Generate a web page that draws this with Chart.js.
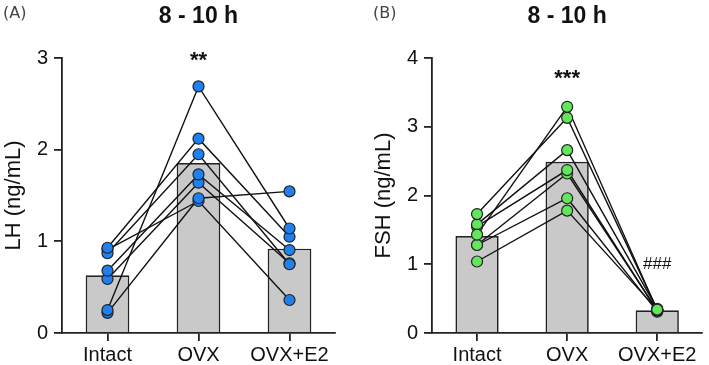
<!DOCTYPE html>
<html>
<head>
<meta charset="utf-8">
<script src="https://cdn.jsdelivr.net/npm/chart.js@4.4.0/dist/chart.umd.min.js"></script>
<style>
  body { margin: 0; background: #fff; width: 709px; height: 365px; position: relative; overflow: hidden; }
  canvas { position: absolute; top: 0; }
  #chartA { left: 0; }
  #chartB { left: 370px; }
</style>
</head>
<body>
<canvas id="chartA" width="370" height="365"></canvas>
<canvas id="chartB" width="339" height="365"></canvas>
<script>
const groups = ["Intact", "OVX", "OVX+E2"];
const panelTitle = "8 - 10 h";

// LH (panel A), one value per animal, same animal at same index
const lhIntact = [0.25, 0.93, 0.87, 0.68, 0.59, 0.22, 0.91];
const lhOvx = [2.69, 2.12, 1.95, 1.73, 1.64, 1.47, 1.44];
const lhOvxE2 = [1.14, 1.05, 0.75, 0.905, 0.76, 1.545, 0.36];
const lhMeans = [0.63, 1.855, 0.92];

// FSH (panel B)
const fshIntact = [1.73, 1.43, 1.58, 1.55, 1.28, 1.28, 1.04];
const fshOvx = [3.13, 3.29, 2.66, 2.37, 2.32, 1.96, 1.78];
const fshOvxE2 = [0.34, 0.33, 0.35, 0.32, 0.33, 0.31, 0.34];
const fshMeans = [1.41, 2.49, 0.33];

// significance marks: [text, group index, y value]
const lhMarks = [["**", 1, 2.97]];
const fshMarks = [["***", 1, 3.7], ["###", 2, 1.0]];

const font = "'Liberation Sans', Arial, sans-serif";

const panelText = {
  id: "panelText",
  afterDraw(chart, args, opts) {
    const { ctx, scales } = chart;
    ctx.save();
    ctx.textBaseline = "middle";
    ctx.fillStyle = "#444";
    ctx.textAlign = "left";
    ctx.font = "16px 'DejaVu Sans'";
    ctx.fillText(opts.tag, 3, 14);

    ctx.fillStyle = "#111";
    ctx.textAlign = "center";
    ctx.font = "bold 23px " + font;
    ctx.fillText(panelTitle, scales.x.getPixelForValue(1), 17);

    opts.marks.forEach((m) => {
      ctx.font = m[0].startsWith("*") ? "bold 22px " + font : "17px " + font;
      ctx.fillText(m[0], scales.x.getPixelForValue(m[1]), scales.y.getPixelForValue(m[2]));
    });
    ctx.restore();
  },
};

function makeChart(canvas, cfg) {
  const animals = cfg.intact.map((v, i) => [v, cfg.ovx[i], cfg.e2[i]]);

  const datasets = [
    {
      type: "bar",
      data: cfg.means,
      backgroundColor: "#c9c9c9",
      borderColor: "#222",
      borderWidth: 1.7,
      barPercentage: 0.48,
      categoryPercentage: 1,
      order: 3,
    },
  ];
  animals.forEach((a) => {
    datasets.push({
      type: "line",
      data: a,
      borderColor: "#111",
      borderWidth: 1.4,
      pointRadius: 0,
      tension: 0,
      order: 2,
    });
  });
  animals.forEach((a) => {
    datasets.push({
      type: "line",
      data: a,
      showLine: false,
      pointRadius: 5.5,
      pointBackgroundColor: cfg.color,
      pointBorderColor: "#222",
      pointBorderWidth: 1.2,
      order: 1,
      clip: false,
    });
  });

  return new Chart(canvas, {
    type: "bar",
    data: { labels: groups, datasets },
    options: {
      responsive: false,
      animation: false,
      devicePixelRatio: 1,
      layout: { padding: { top: 58, right: cfg.padRight, bottom: 0, left: 0 } },
      plugins: {
        legend: { display: false },
        tooltip: { enabled: false },
        panelText: { tag: cfg.tag, marks: cfg.marks },
      },
      scales: {
        x: {
          offset: true,
          afterFit(s) { s.height = 32; },
          grid: { offset: false, drawOnChartArea: false, tickLength: 8, color: "#222", lineWidth: 1.8 },
          border: { color: "#222", width: 1.8 },
          ticks: { color: "#111", font: { family: font, size: 20 }, padding: 2, maxRotation: 0 },
        },
        y: {
          min: 0,
          max: cfg.yMax,
          afterFit(s) { s.width = 62; },
          grid: { drawOnChartArea: false, tickLength: 8, color: "#222", lineWidth: 1.8 },
          border: { color: "#222", width: 1.8 },
          ticks: { stepSize: 1, color: "#111", font: { family: font, size: 20 }, padding: 6 },
          title: {
            display: true,
            text: cfg.yTitle,
            color: "#111",
            font: { family: font, size: 22 },
            padding: { top: 1, bottom: 0 },
          },
        },
      },
    },
    plugins: [panelText],
  });
}

makeChart(document.getElementById("chartA"), {
  intact: lhIntact, ovx: lhOvx, e2: lhOvxE2, means: lhMeans,
  color: "#1f80ef", yMax: 3, yTitle: "LH (ng/mL)", tag: "(A)", marks: lhMarks, padRight: 35,
});

makeChart(document.getElementById("chartB"), {
  intact: fshIntact, ovx: fshOvx, e2: fshOvxE2, means: fshMeans,
  color: "#62e65c", yMax: 4, yTitle: "FSH (ng/mL)", tag: "(B)", marks: fshMarks, padRight: 3,
});
</script>
</body>
</html>
